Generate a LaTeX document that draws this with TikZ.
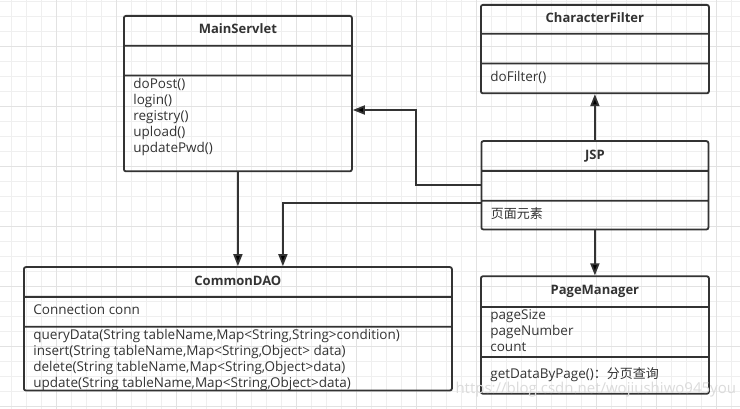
\documentclass[tikz,border=0pt]{standalone}
\usepackage{fontspec}
\setmainfont{Open Sans}
\newfontfamily\cjk{Noto Sans CJK SC}
\usetikzlibrary{positioning, arrows.meta, shapes.multipart}

\definecolor{umlline}{HTML}{333333}
\definecolor{gridlight}{HTML}{EFEFEF}
\definecolor{griddark}{HTML}{E2E2E2}

% one compartment of a class box: width, height, inner position, text
\newcommand{\umlcell}[4]{\parbox[b][#2][#3]{#1}{\leftskip=9.5pt #4}}
\newcommand{\umltitle}{\fontsize{13}{16}\selectfont\bfseries}

\begin{document}
\begin{tikzpicture}[x=1pt, y=-1pt,
    umlclass/.style={rectangle split, rectangle split parts=3, draw=umlline,
      line width=1.8pt, rounded corners=2pt, inner sep=0pt, anchor=north west,
      text=umlline, font=\fontsize{13.5}{16}\selectfont},
    umlarrow/.style={draw=umlline, line width=1.8pt,
      -{Triangle[length=12pt, width=9pt]}}]
    \useasboundingbox (0,0) rectangle (740,409);
    \fill[white] (0,0) rectangle (740,409);

    % Grid
    \foreach \gx in {11.7,26.7,...,740} \draw[gridlight, line width=1pt] (\gx,0) -- (\gx,409);
    \foreach \gy in {1.7,16.7,...,409} \draw[gridlight, line width=1pt] (0,\gy) -- (740,\gy);
    \foreach \gx in {56.7,116.7,...,740} \draw[griddark, line width=1pt] (\gx,0) -- (\gx,409);
    \foreach \gy in {46.7,106.7,...,409} \draw[griddark, line width=1pt] (0,\gy) -- (740,\gy);

    % Nodes
    \node (main) [umlclass] at (123,15)
      {\umlcell{228pt}{28pt}{c}{\centering\umltitle\strut MainServlet}
      \nodepart{two}\umlcell{228pt}{28pt}{c}{}
      \nodepart{three}\umlcell{228pt}{94pt}{t}{\vspace*{1pt}\strut doPost()\\ login()\\ registry()\\ upload()\\ updatePwd()}};
    \node (filter) [umlclass] at (480,4)
      {\umlcell{228pt}{27pt}{c}{\centering\umltitle\strut CharacterFilter}
      \nodepart{two}\umlcell{228pt}{28pt}{c}{}
      \nodepart{three}\umlcell{228pt}{28pt}{c}{\strut doFilter()}};
    \node (jsp) [umlclass, below=46pt of filter]
      {\umlcell{227pt}{28pt}{c}{\centering\umltitle\strut JSP}
      \nodepart{two}\umlcell{227pt}{28pt}{c}{}
      \nodepart{three}\umlcell{227pt}{27pt}{c}{\strut{\cjk\fontsize{13}{16}\selectfont 页面元素}}};
    \node (dao) [umlclass, below=94pt of main]
      {\umlcell{428pt}{28pt}{c}{\centering\umltitle\strut CommonDAO}
      \nodepart{two}\umlcell{428pt}{28pt}{c}{\strut Connection conn}
      \nodepart{three}\umlcell{428pt}{62pt}{t}{\vspace*{1pt}\strut queryData(String tableName,Map<String,String>condition)\\
        insert(String tableName,Map<String,Object> data)\\
        delete(String tableName,Map<String,Object>data)\\
        update(String tableName,Map<String,Object>data)}};
    \node (page) [umlclass, below=45pt of jsp]
      {\umlcell{228pt}{29pt}{c}{\centering\umltitle\strut PageManager}
      \nodepart{two}\umlcell{228pt}{48pt}{t}{\strut pageSize\\ pageNumber\\ count}
      \nodepart{three}\umlcell{228pt}{35pt}{c}{\strut getDataByPage(){\cjk\fontsize{13}{16}\selectfont ：分页查询}}};
    \coordinate (bend) at (416,110);

    % Arrows
    \draw[umlarrow] (main.south) -- (dao.north);
    \draw[umlarrow] ([yshift=-2pt]jsp.two split west) -| ([xshift=45pt]dao.north);
    \draw[umlarrow] (jsp.west) -| (bend) -- (bend -| main.east);
    \draw[umlarrow] (jsp.north) -- (filter.south);
    \draw[umlarrow] (jsp.south) -- (page.north);

    \node (mark) [anchor=base west, text=black!14, font=\fontsize{15}{15}\selectfont]
      at (452,393) {https://blog.csdn.net/wojiushiwo945you};
\end{tikzpicture}
\end{document}
